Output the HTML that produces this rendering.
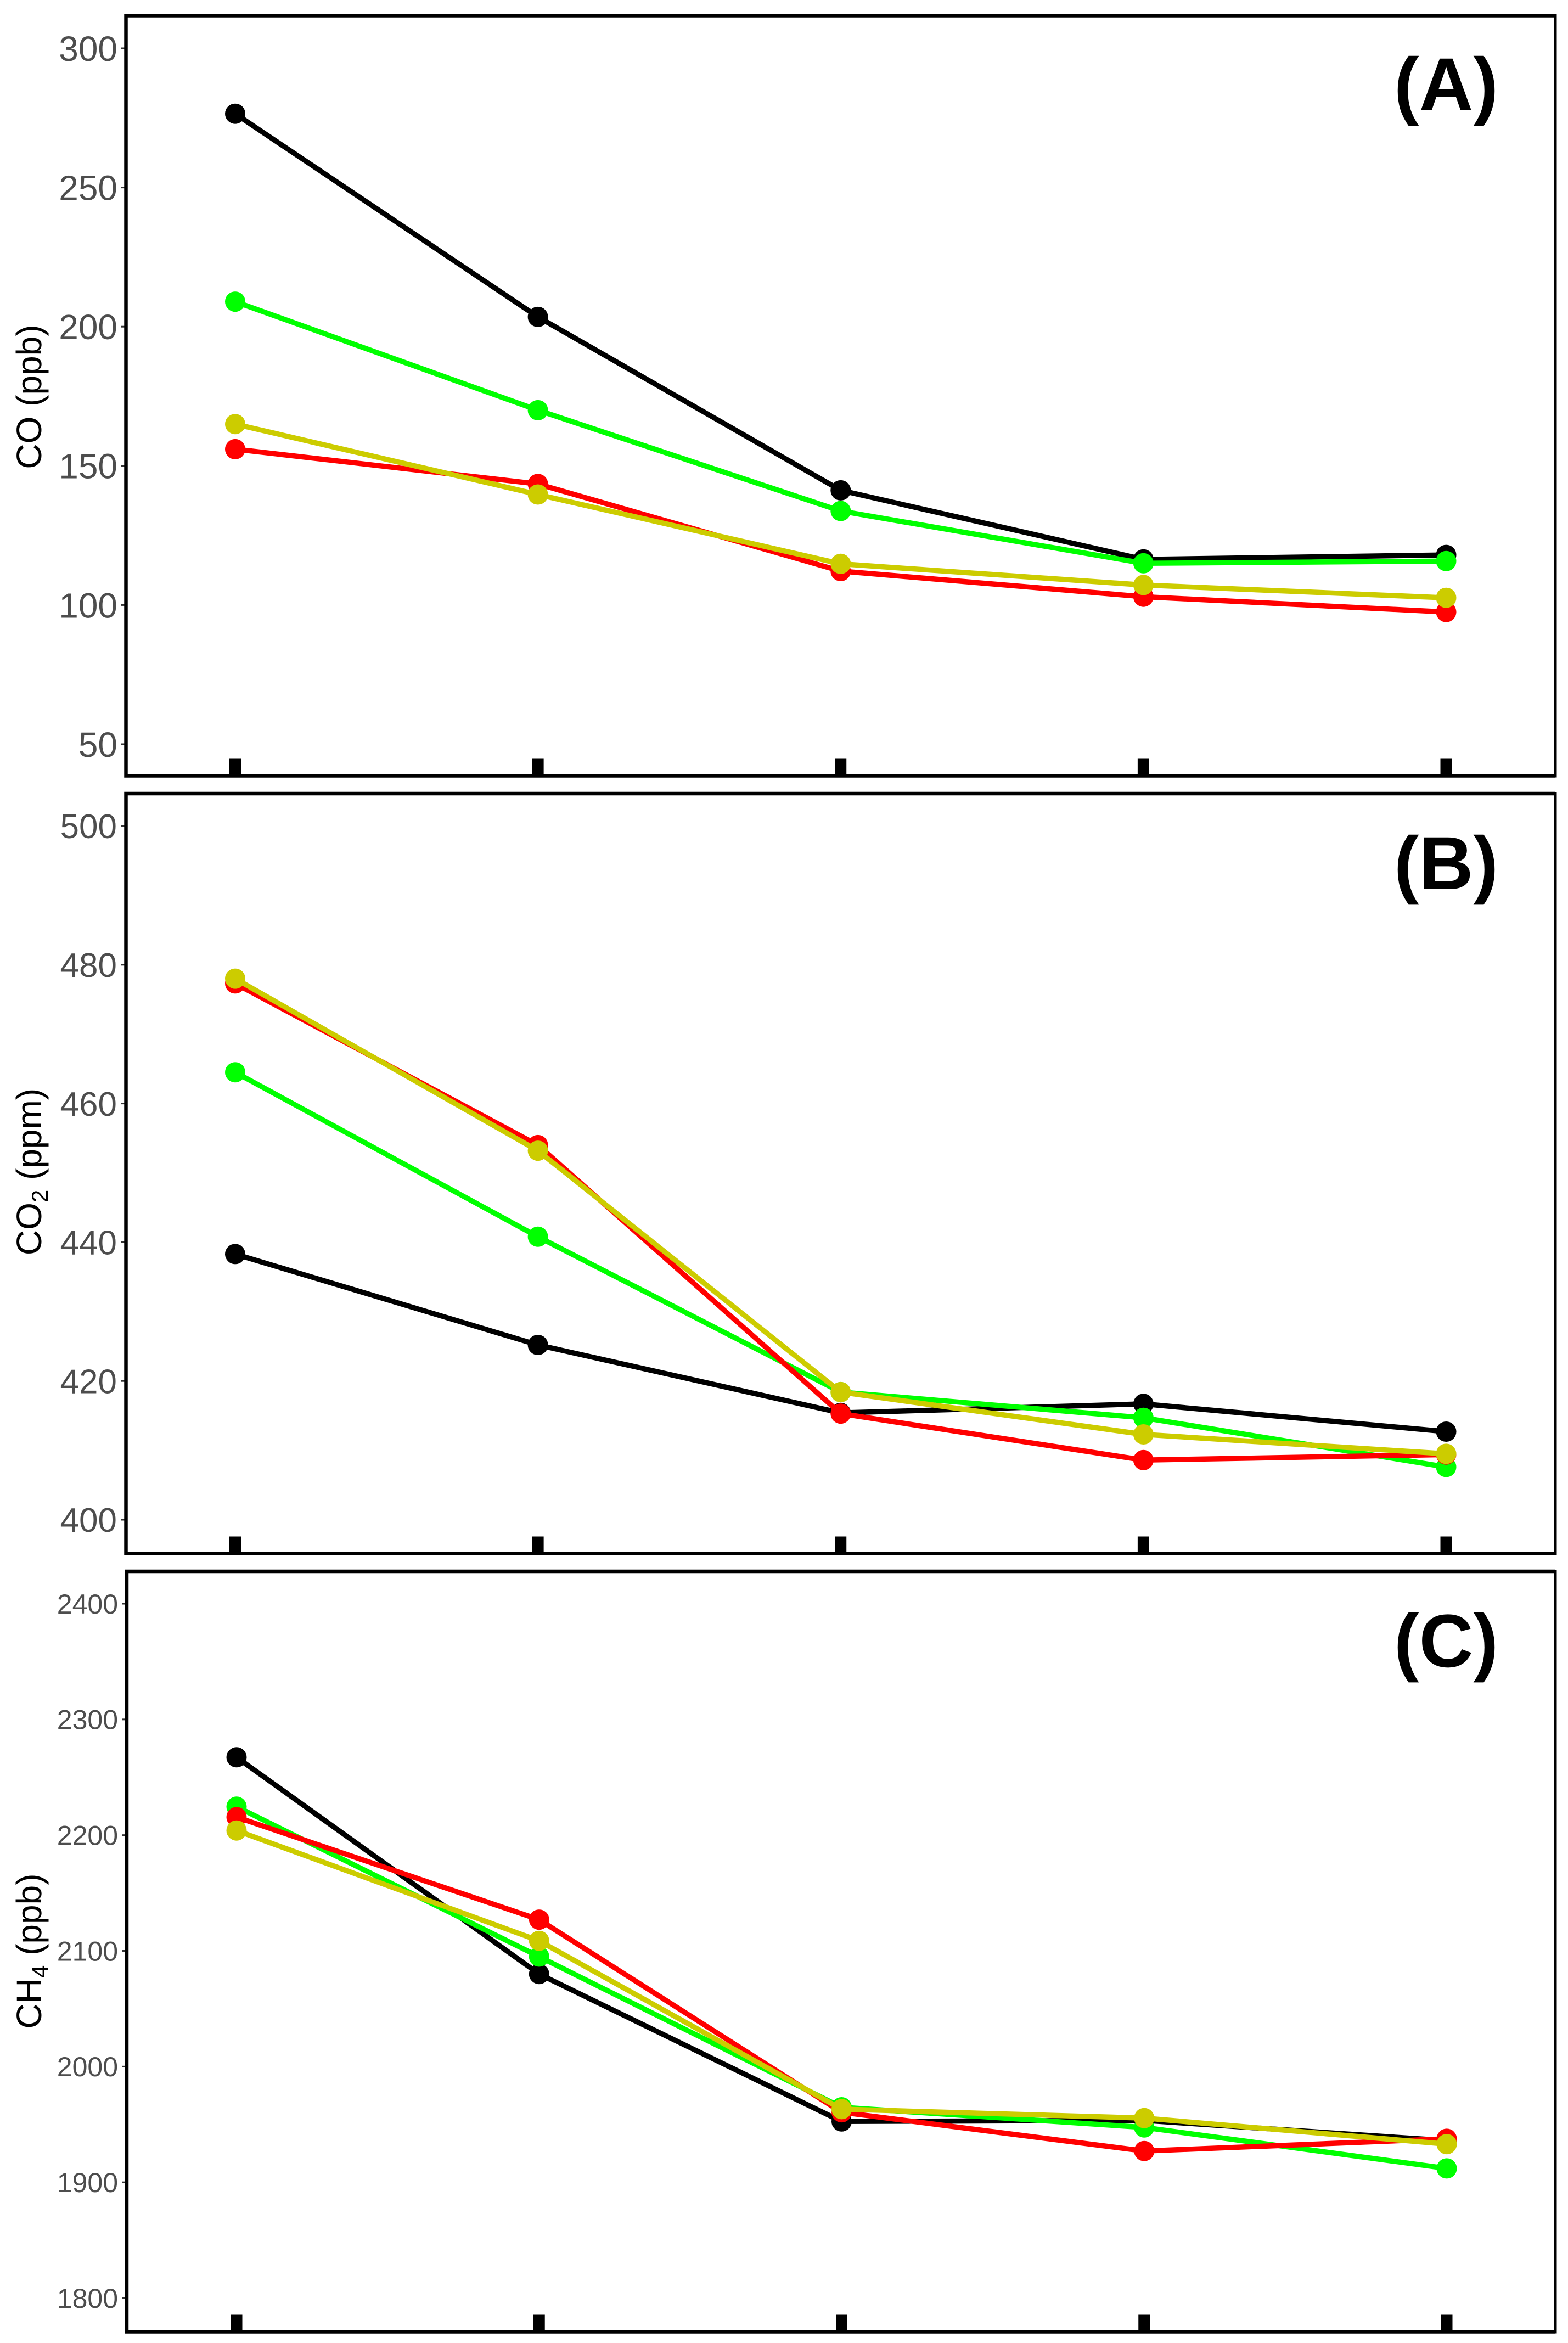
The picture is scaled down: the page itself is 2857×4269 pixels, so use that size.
<!DOCTYPE html>
<html lang="en">
<head>
<meta charset="utf-8">
<title>CO, CO2 and CH4 panels</title>
<style>
html,body{margin:0;padding:0;background:#fff;width:2857px;height:4269px;overflow:hidden}
svg{display:block}
text{font-family:"Liberation Sans",Arial,sans-serif}
</style>
</head>
<body>
<svg id="chart" xmlns="http://www.w3.org/2000/svg" width="2857" height="4269" viewBox="0 0 2857 4269"></svg>
<script>
// Sampling positions along the shared (unlabelled) x axis
const categories = [1, 2, 3, 4, 5];

// Panel A: CO (ppb)
const coTicks = [50, 100, 150, 200, 250, 300];
const coBlack = [276.5, 203.5, 141.2, 116.4, 118.0];
const coGreen = [209.0, 170.0, 133.8, 115.0, 115.8];
const coRed = [156.0, 143.5, 112.2, 103.0, 97.5];
const coYellow = [165.0, 139.7, 114.8, 107.2, 102.6];

// Panel B: CO2 (ppm)
const co2Ticks = [400, 420, 440, 460, 480, 500];
const co2Black = [438.3, 425.2, 415.4, 416.7, 412.7];
const co2Green = [464.5, 440.8, 418.4, 414.7, 407.6];
const co2Red = [477.3, 454.0, 415.3, 408.6, 409.4];
const co2Yellow = [478.0, 453.2, 418.4, 412.3, 409.5];

// Panel C: CH4 (ppb)
const ch4Ticks = [1800, 1900, 2000, 2100, 2200, 2300, 2400];
const ch4Black = [2267.3, 2080.0, 1952.6, 1953.5, 1936.0];
const ch4Green = [2224.6, 2095.0, 1964.8, 1947.4, 1912.0];
const ch4Red = [2215.6, 2127.0, 1960.5, 1927.0, 1937.6];
const ch4Yellow = [2204.0, 2108.7, 1963.2, 1955.5, 1933.0];

const NS = 'http://www.w3.org/2000/svg';
const svg = document.getElementById('chart');

function make(tag, attrs, parent) {
  const el = document.createElementNS(NS, tag);
  for (const k in attrs) el.setAttribute(k, attrs[k]);
  parent.appendChild(el);
  return el;
}

function linearScale(d0, d1, r0, r1) {
  return function (v) { return r0 + (v - d0) * (r1 - r0) / (d1 - d0); };
}

function drawSeries(group, key, color, values, xAxis, yAxis) {
  const g = make('g', {}, group);
  
  
  const pts = values.map(function (v, i) { return xAxis(i).toFixed(1) + ',' + yAxis(v).toFixed(1); }).join(' ');
  const line = make('polyline', { points: pts, fill: 'none', stroke: color, 'stroke-width': 9.5, 'stroke-linejoin': 'round' }, g);
  
  
  values.forEach(function (v, i) {
    const dot = make('circle', { cx: xAxis(i).toFixed(1), cy: yAxis(v).toFixed(1), r: 18.5, fill: color }, g);
    
    
  });
}

function drawPanel(o) {
  const g = make('g', {}, svg);
  
  

  const xAxis = linearScale(0, categories.length - 1, o.x0, o.x1);
  const yAxis = linearScale(o.d0, o.d1, o.r0, o.r1);

  // y ticks and labels
  o.ticks.forEach(function (t) {
    const y = yAxis(t);
    const tick = make('line', { x1: o.left - 9, x2: o.left, y1: y, y2: y, stroke: '#333', 'stroke-width': 3 }, g);
    
    
    const label = make('text', { x: o.labelX, y: y + o.fontSize * 0.358, 'text-anchor': 'end', 'font-size': o.fontSize, fill: '#4d4d4d' }, g);
    
    
    label.textContent = String(t);
  });

  // x ticks (thick inward stubs)
  categories.forEach(function (c, i) {
    const tick = make('rect', { x: xAxis(i) - 10.5, y: o.bottom - 31, width: 21, height: 31, fill: '#000' }, g);
    
    
  });

  // series, drawn in the reference stacking order
  drawSeries(g, 'black', '#000000', o.black, xAxis, yAxis);
  drawSeries(g, 'green', '#00ff00', o.green, xAxis, yAxis);
  drawSeries(g, 'red', '#ff0000', o.red, xAxis, yAxis);
  drawSeries(g, 'yellow', '#cccc00', o.yellow, xAxis, yAxis);

  // frame: thick left/top/bottom, thinner right edge as in the reference
  const frame = make('path', {
    d: 'M' + o.right + ' ' + o.top + 'H' + o.left + 'V' + o.bottom + 'H' + o.right,
    fill: 'none', stroke: '#000', 'stroke-width': 6.5
  }, g);
  
  
  const rightEdge = make('line', { x1: o.right, x2: o.right, y1: o.top - 3, y2: o.bottom + 3, stroke: '#000', 'stroke-width': 5 }, g);
  
  

  // panel letter
  const letter = make('text', { x: 2635, y: o.letterY, 'text-anchor': 'middle', 'font-size': 137, 'font-weight': 'bold', fill: '#000' }, g);
  
  
  letter.textContent = o.letter;

  // y-axis title
  const title = make('text', { x: 0, y: 0, transform: 'translate(75,' + o.titleY + ') rotate(-90)', 'text-anchor': 'middle', 'font-size': 64, fill: '#000' }, g);
  
  
  o.title.forEach(function (part) {
    const s = make('tspan', {}, title);
    s.textContent = part.t;
    if (part.sub) {
      s.setAttribute('font-size', '42');
      s.setAttribute('dy', '12');
    } else if (part.after) {
      s.setAttribute('dy', '-12');
    }
  });
}

drawPanel({
  id: 'co', letter: '(A)', letterY: 201,
  left: 229.5, right: 2834, top: 28.5, bottom: 1413.5,
  x0: 428.5, x1: 2635,
  d0: 300, d1: 50, r0: 88, r1: 1356,
  ticks: coTicks, fontSize: 64, labelX: 214, titleY: 723,
  title: [{ t: 'CO (ppb)' }],
  black: coBlack, green: coGreen, red: coRed, yellow: coYellow
});

drawPanel({
  id: 'co2', letter: '(B)', letterY: 1620,
  left: 229.5, right: 2834, top: 1446, bottom: 2830.5,
  x0: 428.5, x1: 2635,
  d0: 500, d1: 400, r0: 1505, r1: 2769,
  ticks: co2Ticks, fontSize: 62, labelX: 213, titleY: 2135,
  title: [{ t: 'CO' }, { t: '2', sub: true }, { t: ' (ppm)', after: true }],
  black: co2Black, green: co2Green, red: co2Red, yellow: co2Yellow
});

drawPanel({
  id: 'ch4', letter: '(C)', letterY: 3037,
  left: 231, right: 2834, top: 2863, bottom: 4248.5,
  x0: 431, x1: 2636,
  d0: 2400, d1: 1800, r0: 2922, r1: 4187,
  ticks: ch4Ticks, fontSize: 50, labelX: 215, titleY: 3555,
  title: [{ t: 'CH' }, { t: '4', sub: true }, { t: ' (ppb)', after: true }],
  black: ch4Black, green: ch4Green, red: ch4Red, yellow: ch4Yellow
});
</script>
</body>
</html>
